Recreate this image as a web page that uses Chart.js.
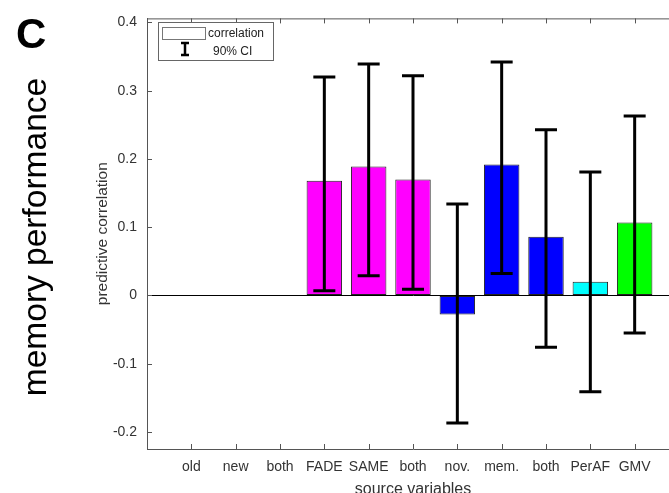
<!DOCTYPE html>
<html>
<head>
<meta charset="utf-8">
<script src="https://cdn.jsdelivr.net/npm/chart.js@4"></script>
<style>
  html, body { margin: 0; padding: 0; background: #fff; overflow: hidden; }
  #wrap { width: 690px; height: 500px; }
</style>
</head>
<body>
<div id="wrap"><canvas id="corrChart" width="690" height="500"></canvas></div>
<script>
// source variables and their predictive correlations with 90% CI
const categories = ['old', 'new', 'both', 'FADE', 'SAME', 'both', 'nov.', 'mem.', 'both', 'PerAF', 'GMV'];
const correlation = [null, null, null, 0.168, 0.189, 0.170, -0.028, 0.192, 0.086, 0.020, 0.107];
const ciLow  = [null, null, null, 0.007, 0.029, 0.009, -0.187, 0.032, -0.076, -0.141, -0.055];
const ciHigh = [null, null, null, 0.320, 0.339, 0.322, 0.134, 0.342, 0.243, 0.181, 0.263];
const barColors = ['#ff00ff', '#ff00ff', '#ff00ff', '#ff00ff', '#ff00ff', '#ff00ff',
                   '#0000ff', '#0000ff', '#0000ff', '#00ffff', '#00ff00'];
const yTicks = [-0.2, -0.1, 0, 0.1, 0.2, 0.3, 0.4];

// pad the category axis with an empty slot on each side (xlim 0..12)
const labels = [''].concat(categories, ['']);
const values = [null].concat(correlation, [null]);
const lows = [null].concat(ciLow, [null]);
const highs = [null].concat(ciHigh, [null]);
const colors = ['#fff'].concat(barColors, ['#fff']);

const AXIS_COLOR = '#555';
const FONT = 'Arial, "Liberation Sans", sans-serif';

const extras = {
  id: 'extras',
  afterDatasetsDraw(chart) {
    const ctx = chart.ctx;
    const y = chart.scales.y;
    const meta = chart.getDatasetMeta(0);
    ctx.save();
    ctx.strokeStyle = '#000';
    ctx.lineWidth = 3;
    meta.data.forEach((bar, i) => {
      if (lows[i] === null) return;
      const x = bar.x;
      const top = y.getPixelForValue(highs[i]);
      const bot = y.getPixelForValue(lows[i]);
      ctx.beginPath();
      ctx.moveTo(x, top); ctx.lineTo(x, bot);
      ctx.moveTo(x - 11, top); ctx.lineTo(x + 11, top);
      ctx.moveTo(x - 11, bot); ctx.lineTo(x + 11, bot);
      ctx.stroke();
    });
    ctx.restore();
  },
  afterDraw(chart) {
    const ctx = chart.ctx;
    const a = chart.chartArea;
    const xs = chart.scales.x;
    const ys = chart.scales.y;
    ctx.save();

    // top edge of the box
    ctx.strokeStyle = AXIS_COLOR;
    ctx.lineWidth = 1;
    ctx.beginPath();
    ctx.moveTo(a.left, a.top + 0.5); ctx.lineTo(a.right, a.top + 0.5);
    ctx.stroke();

    // inward tick marks
    ctx.beginPath();
    for (let i = 1; i <= categories.length; i++) {
      const px = Math.round(xs.getPixelForValue(i)) + 0.5;
      ctx.moveTo(px, a.bottom); ctx.lineTo(px, a.bottom - 5);
      ctx.moveTo(px, a.top); ctx.lineTo(px, a.top + 5);
    }
    yTicks.forEach(v => {
      const py = Math.round(ys.getPixelForValue(v)) + 0.5;
      ctx.moveTo(a.left, py); ctx.lineTo(a.left + 5, py);
    });
    ctx.stroke();

    // legend
    ctx.fillStyle = '#fff';
    ctx.fillRect(158, 22, 115, 38);
    ctx.strokeStyle = '#666';
    ctx.strokeRect(158.5, 22.5, 115, 38);
    ctx.strokeStyle = '#777';
    ctx.strokeRect(162.5, 27.5, 43, 12);
    ctx.strokeStyle = '#000';
    ctx.lineWidth = 2.5;
    ctx.beginPath();
    ctx.moveTo(185, 43); ctx.lineTo(185, 55);
    ctx.moveTo(181, 43); ctx.lineTo(189, 43);
    ctx.moveTo(181, 55); ctx.lineTo(189, 55);
    ctx.stroke();
    ctx.fillStyle = '#222';
    ctx.font = '12px ' + FONT;
    ctx.textBaseline = 'middle';
    ctx.textAlign = 'left';
    ctx.fillText('correlation', 208, 34);
    ctx.fillText('90% CI', 213, 52);

    // y axis title
    ctx.fillStyle = '#333';
    ctx.font = '15.5px ' + FONT;
    ctx.textAlign = 'center';
    ctx.save();
    ctx.translate(103, (a.top + a.bottom) / 2);
    ctx.rotate(-Math.PI / 2);
    ctx.fillText('predictive correlation', 0, 0);
    ctx.restore();

    // panel label and row title
    ctx.fillStyle = '#000';
    ctx.font = 'bold 42px ' + FONT;
    ctx.textAlign = 'left';
    ctx.textBaseline = 'alphabetic';
    ctx.fillText('C', 16, 48);
    ctx.font = '33.5px ' + FONT;
    ctx.textAlign = 'center';
    ctx.save();
    ctx.translate(46, 237);
    ctx.rotate(-Math.PI / 2);
    ctx.fillText('memory performance', 0, 0);
    ctx.restore();

    ctx.restore();
  }
};

new Chart(document.getElementById('corrChart').getContext('2d'), {
  type: 'bar',
  data: {
    labels: labels,
    datasets: [{
      label: 'correlation',
      data: values,
      backgroundColor: colors,
      borderColor: '#222',
      borderWidth: 1,
      borderSkipped: false,
      categoryPercentage: 0.8,
      barPercentage: 1
    }]
  },
  options: {
    responsive: false,
    animation: false,
    layout: { padding: { top: 14, right: 11, left: 0, bottom: 0 } },
    plugins: { legend: { display: false }, tooltip: { enabled: false } },
    scales: {
      x: {
        offset: false,
        grid: { display: false, offset: false },
        border: { display: true, color: AXIS_COLOR, width: 1 },
        ticks: {
          autoSkip: false, maxRotation: 0, padding: 2,
          color: '#333', font: { size: 14, family: FONT }
        },
        title: {
          display: true, text: 'source variables', color: '#333',
          font: { size: 16, family: FONT }, padding: { top: 0, bottom: 1 }
        },
        afterFit(scale) { scale.height = 51; }
      },
      y: {
        min: -0.225,
        max: 0.406,
        afterBuildTicks(scale) { scale.ticks = yTicks.map(v => ({ value: v })); },
        grid: {
          drawTicks: false,
          color: ctx => (ctx.tick && ctx.tick.value === 0 ? '#000' : 'rgba(0,0,0,0)'),
          lineWidth: 1
        },
        border: { display: true, color: AXIS_COLOR, width: 1 },
        ticks: {
          padding: 10, color: '#333', font: { size: 14, family: FONT },
          callback: v => String(Math.round(v * 10) / 10)
        },
        afterFit(scale) { scale.width = 147; }
      }
    }
  },
  plugins: [extras]
});
</script>
</body>
</html>
